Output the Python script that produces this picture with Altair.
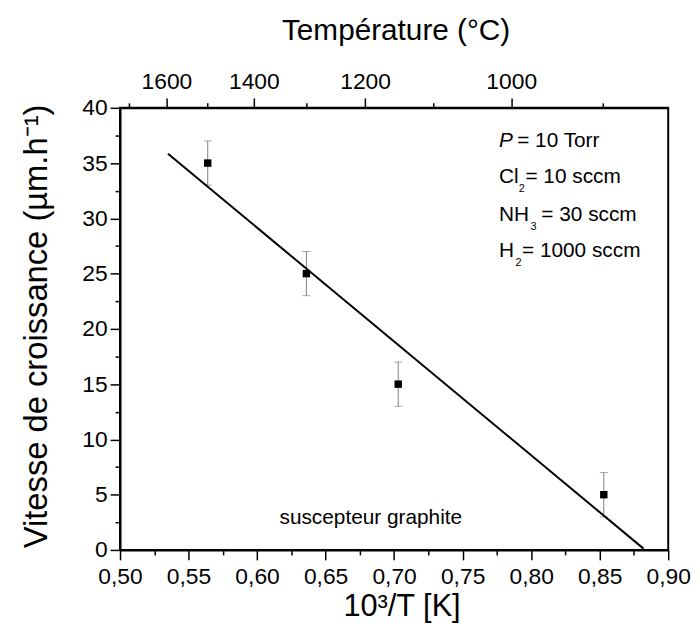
import altair as alt
import pandas as pd

# ---- data ----
inv_T = [0.564, 0.636, 0.703, 0.853]          # 10^3/T [K]
rate = [35.0, 25.0, 15.0, 5.0]                # µm/h
rate_err = [2.0, 2.0, 2.0, 2.0]

fit_x = [0.535, 0.882]
fit_y = [35.85, 0.12]

x_major = [0.50, 0.55, 0.60, 0.65, 0.70, 0.75, 0.80, 0.85, 0.90]
x_minor = [0.525, 0.575, 0.625, 0.675, 0.725, 0.775, 0.825, 0.875]
y_major = [0, 5, 10, 15, 20, 25, 30, 35, 40]
y_minor = [2.5, 7.5, 12.5, 17.5, 22.5, 27.5, 32.5, 37.5]
temp_major = [1600, 1400, 1200, 1000]         # °C
temp_minor = [1700, 1500, 1300, 1100, 900]

# annotation text segments: (text, x, y, kind)
annot = [
    ("P", 0.7765, 36.50, "italic"),
    ("= 10 Torr", 0.7898, 36.50, "normal"),
    ("Cl", 0.7765, 33.21, "normal"),
    ("2", 0.7910, 32.40, "sub"),
    ("= 10 sccm", 0.7958, 33.21, "normal"),
    ("NH", 0.7765, 29.78, "normal"),
    ("3", 0.7995, 28.97, "sub"),
    ("= 30 sccm", 0.8074, 29.78, "normal"),
    ("H", 0.7765, 26.48, "normal"),
    ("2", 0.7886, 25.68, "sub"),
    ("= 1000 sccm", 0.7933, 26.48, "normal"),
]
note_text = ["suscepteur graphite"]
note_x = [0.683]
note_y = [2.33]

# ---- tables ----
pts = pd.DataFrame({"x": inv_T, "y": rate,
                    "lo": [r - e for r, e in zip(rate, rate_err)],
                    "hi": [r + e for r, e in zip(rate, rate_err)]})
fit = pd.DataFrame({"x": fit_x, "y": fit_y})
ann = pd.DataFrame(annot, columns=["text", "x", "y", "kind"])
note = pd.DataFrame({"text": note_text, "x": note_x, "y": note_y})

top_major_pos = [1000.0 / (t + 273.15) for t in temp_major]
top_minor_pos = [1000.0 / (t + 273.15) for t in temp_minor]

FONT = "Liberation Sans"
xscale = alt.Scale(domain=[0.5, 0.9], nice=False, zero=False)
yscale = alt.Scale(domain=[0, 40], nice=False, zero=False)

common = dict(domainColor="black", domainWidth=2, tickColor="black", tickWidth=1.5,
              labelFont=FONT, labelFontSize=23, labelColor="black", grid=False,
              titleFont=FONT, titleColor="black", titleFontWeight="normal",
              labelFlush=False, labelOverlap=False, labelBound=False)

minor_common = dict(labels=False, domain=False, title=None, tickSize=5, grid=False,
                    tickColor="black", tickWidth=1.5)

ax_bottom = alt.Axis(orient="bottom", values=x_major, tickSize=10, labelPadding=6,
                     labelExpr="replace(format(datum.value, '.2f'), '.', ',')",
                     title="10³/T [K]", titleFontSize=31, titleX=284, titleY=66,
                     titleAlign="center", titleBaseline="alphabetic", **common)
ax_left = alt.Axis(orient="left", values=y_major, tickSize=10, labelPadding=3, format="d",
                   title="Vitesse de croissance (µm.h⁻¹)", titleFontSize=33,
                   titleAngle=270, titleX=-74, titleY=220, titleAlign="center",
                   titleBaseline="alphabetic", **common)
ax_top = alt.Axis(orient="top", values=top_major_pos, tickSize=10, labelPadding=4,
                  labelExpr="format(round(1000/datum.value - 273.15), 'd')",
                  title="Température (°C)", titleFontSize=30, titleX=278, titleY=-69,
                  titleAlign="center", titleBaseline="alphabetic", **common)
ax_bottom_minor = alt.Axis(orient="bottom", values=x_minor, **minor_common)
ax_left_minor = alt.Axis(orient="left", values=y_minor, **minor_common)
ax_top_minor = alt.Axis(orient="top", values=top_minor_pos, **minor_common)


def X(field, axis=None):
    return alt.X(f"{field}:Q", scale=xscale, axis=axis)


def Y(field, axis=None):
    return alt.Y(f"{field}:Q", scale=yscale, axis=axis)


# error bars
err_rule = alt.Chart(pts).mark_rule(color="#808080", strokeWidth=1).encode(
    x=X("x", ax_bottom), y=Y("lo", ax_left), y2="hi:Q")
cap_lo = alt.Chart(pts).mark_tick(color="#808080", orient="horizontal", size=8, thickness=1).encode(
    x=X("x", ax_bottom_minor), y=Y("lo", ax_left_minor))
cap_hi = alt.Chart(pts).mark_tick(color="#808080", orient="horizontal", size=8, thickness=1).encode(
    x=X("x", ax_top), y=Y("hi"))
# fit line
line = alt.Chart(fit).mark_line(color="black", strokeWidth=2).encode(
    x=X("x", ax_top_minor), y=Y("y"))
# points
points = alt.Chart(pts).mark_square(color="black", size=56, opacity=1).encode(
    x=X("x"), y=Y("y"))

# annotations
ann_normal = alt.Chart(ann).transform_filter("datum.kind == 'normal'").mark_text(
    font=FONT, fontSize=21, align="left", baseline="alphabetic", color="black").encode(
    x=X("x"), y=Y("y"), text="text:N")
ann_italic = alt.Chart(ann).transform_filter("datum.kind == 'italic'").mark_text(
    font=FONT, fontSize=21, fontStyle="italic", align="left", baseline="alphabetic",
    color="black").encode(x=X("x"), y=Y("y"), text="text:N")
ann_sub = alt.Chart(ann).transform_filter("datum.kind == 'sub'").mark_text(
    font=FONT, fontSize=11, align="left", baseline="alphabetic", color="black").encode(
    x=X("x"), y=Y("y"), text="text:N")
note_mark = alt.Chart(note).mark_text(
    font=FONT, fontSize=21, align="center", baseline="alphabetic", color="black").encode(
    x=X("x"), y=Y("y"), text="text:N")

chart = alt.layer(
    err_rule, cap_lo, cap_hi, line, points, ann_normal, ann_italic, ann_sub, note_mark
).resolve_axis(x="independent", y="independent").properties(
    width=553, height=446,
    autosize=alt.AutoSizeParams(type="none"),
    padding={"left": 113, "top": 98, "right": 24, "bottom": 72},
    background="white",
).configure_view(stroke="black", strokeWidth=2)

chart.save("out.html", embed_options={"renderer": "svg", "actions": False})
